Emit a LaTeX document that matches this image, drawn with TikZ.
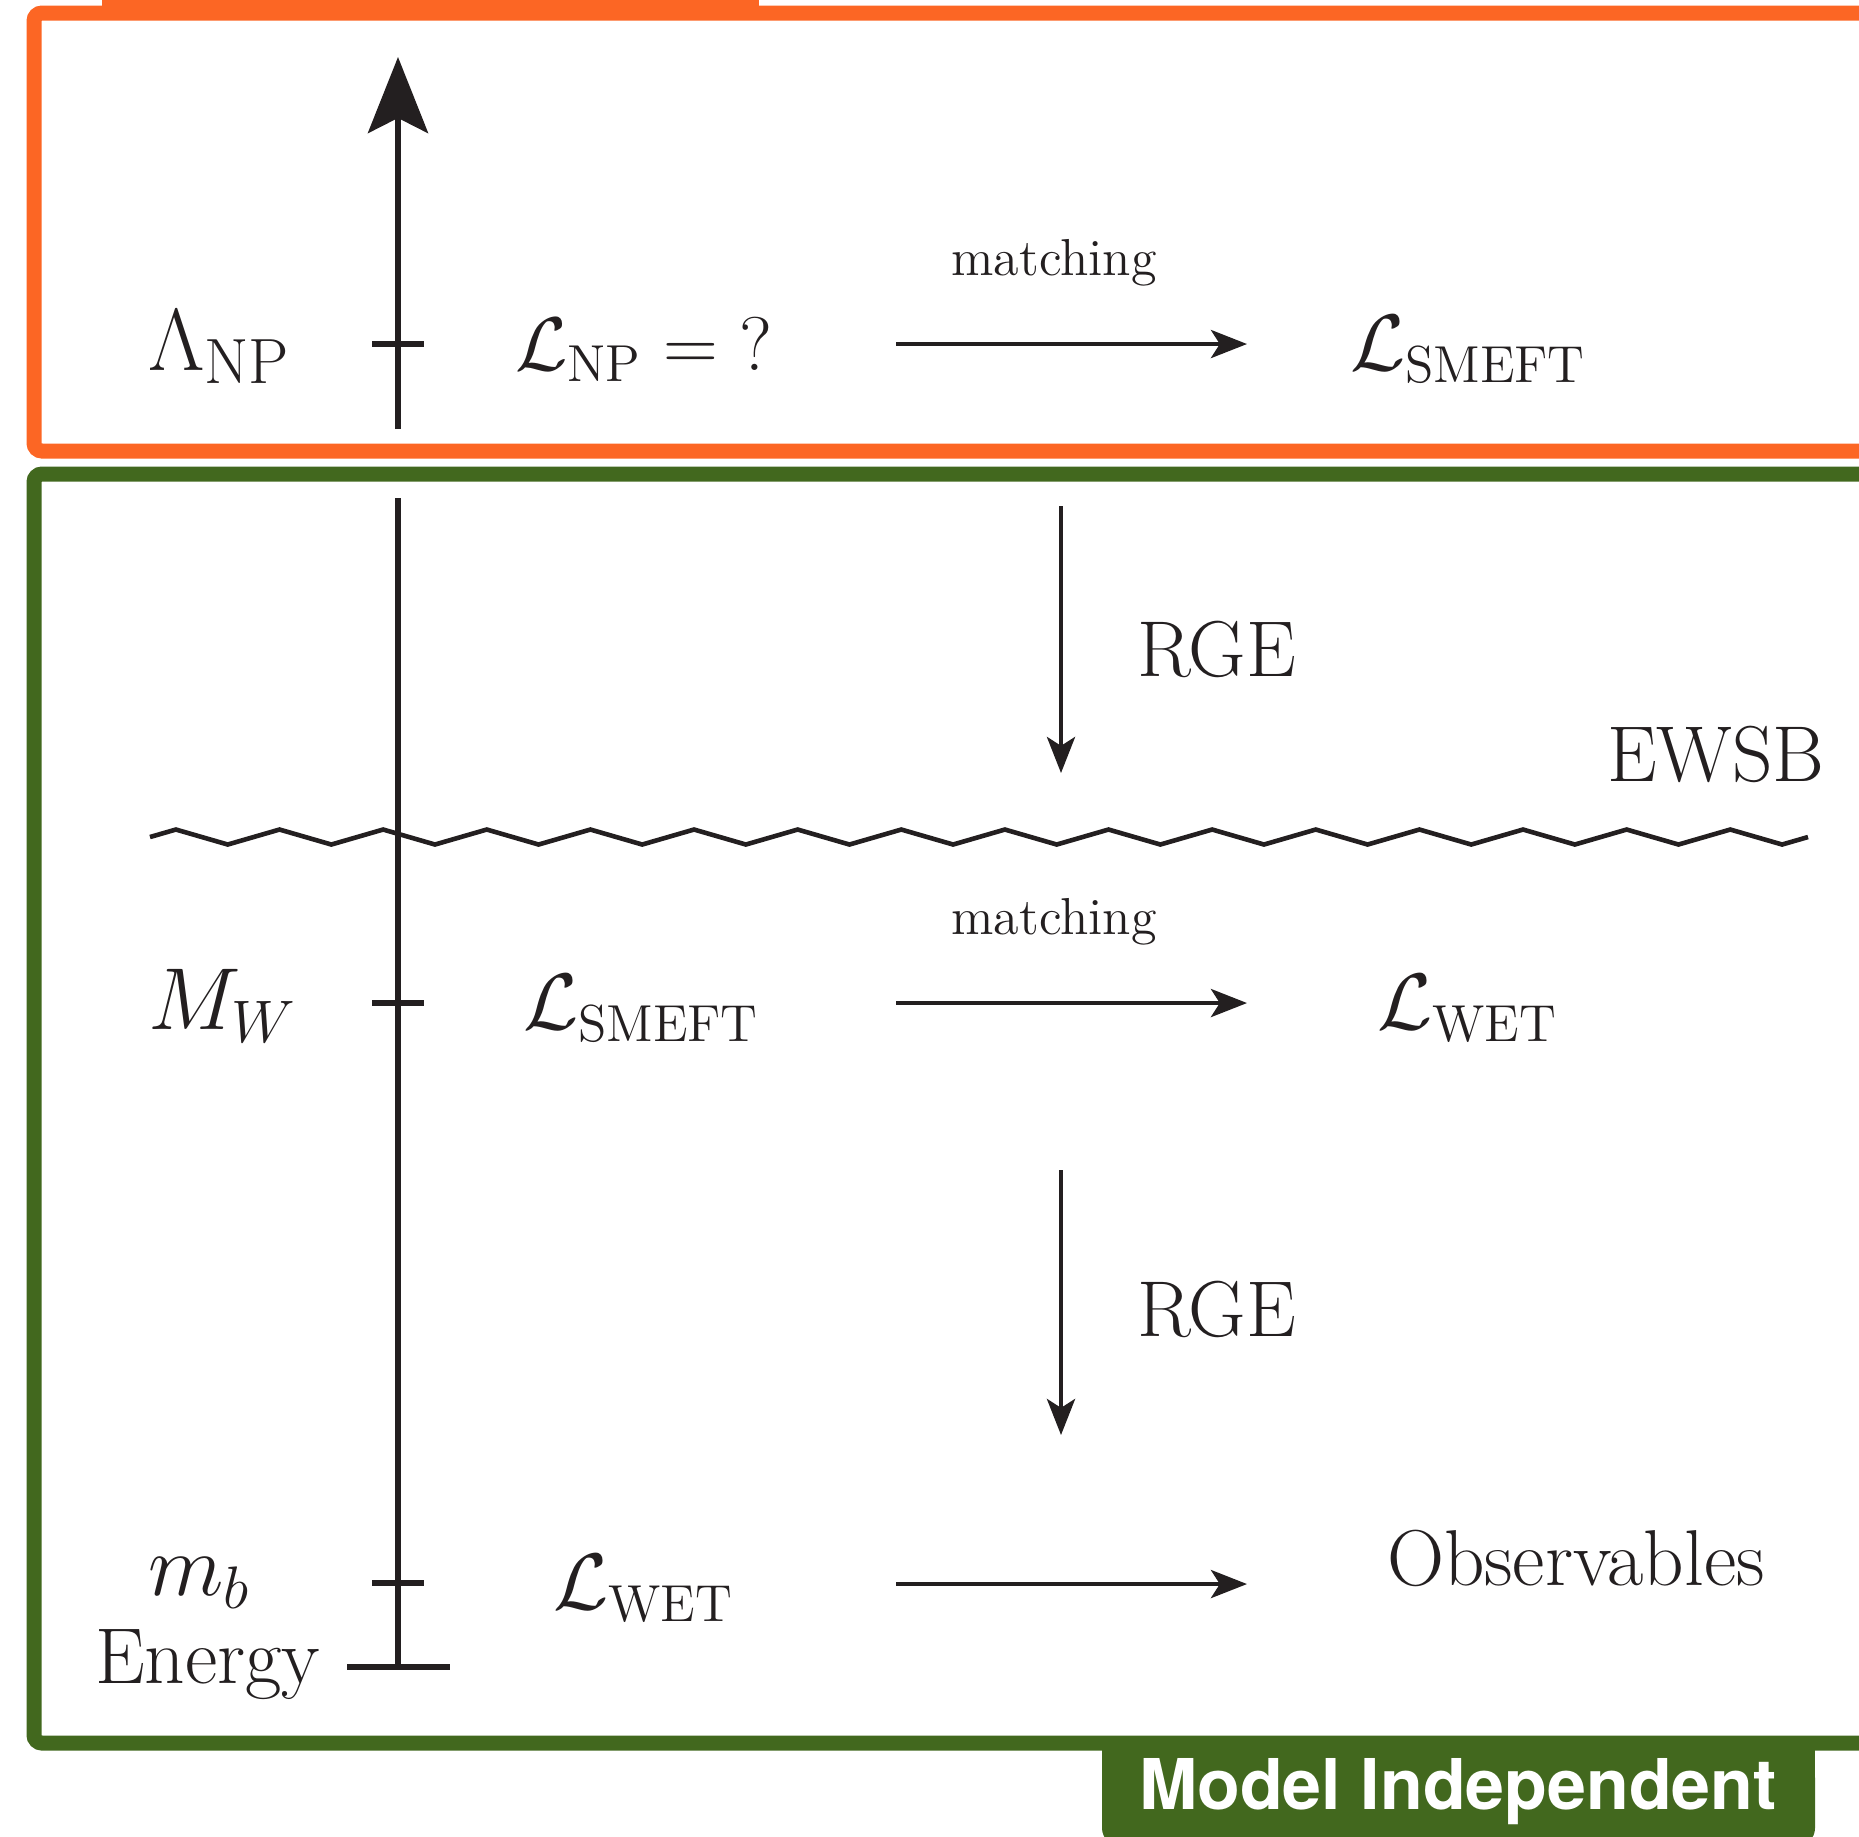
\RequirePackage{fix-cm}
\documentclass[tikz,border=0pt]{standalone}
\usepackage{fontspec}
\newfontfamily\tabfont{TeX Gyre Heros}
\usetikzlibrary{arrows.meta}
\definecolor{orng}{HTML}{FC6624}
\definecolor{grn}{HTML}{42681E}
\definecolor{ink}{HTML}{231F20}
\newcommand{\bigtxt}{\fontsize{19.8}{24}\selectfont}
\newcommand{\Lsub}[1]{\mbox{\fontsize{13}{15}\selectfont #1}}
\newcommand{\Ssub}[1]{\mbox{\fontsize{15}{17}\selectfont #1}}
\newcommand{\Nsub}[1]{\mbox{\fontsize{16}{18}\selectfont #1}}
\tikzset{
  lbl/.style={inner sep=0pt, outer sep=0pt, text=ink},
  lagr/.style={lbl, anchor=base west, font=\fontsize{20}{24}\selectfont},
  scalelbl/.style={lbl, anchor=base west, font=\fontsize{22}{26}\selectfont},
  bigt/.style={lbl, anchor=base west, font=\bigtxt},
  matchlbl/.style={lbl, anchor=base, font=\fontsize{13}{16}\selectfont},
  conn/.style={draw=ink, line width=1.15pt, -{Stealth[length=9pt,width=7pt,inset=2.2pt]}},
  axisline/.style={draw=ink, line width=1.5pt},
  frameline/.style={line width=3.75pt, rounded corners=2pt},
}
\begin{document}
\begin{tikzpicture}[x=0.25pt,y=-0.25pt]
\useasboundingbox (0,0) rectangle (1859,1836);
\clip (0,0) rectangle (1859,1836);
% frames
\fill[orng] (102,-30) rectangle (759,13);
\draw[frameline, draw=orng] (34,13) rectangle (1920,451);
\fill[grn, rounded corners=4.5pt] (1102,1760) rectangle (1815,1846);
\fill[grn] (1102,1743) rectangle (1815,1790);
\draw[frameline, draw=grn] (34,474) rectangle (1920,1743);
\node[lbl, anchor=base, text=white, font=\tabfont\bfseries\fontsize{17.5}{20}\selectfont] (tab) at (1458,1809) {Model Independent};
% energy axis
\coordinate (axtop) at (398,57);
\coordinate (axa) at (398,429);
\coordinate (axb) at (398,498);
\coordinate (axbot) at (398,1667);
\draw[axisline, -{Stealth[length=19pt,width=15pt,inset=3.75pt]}] (axa) -- (axtop);
\draw[axisline] (axb) -- (axbot);
\coordinate (barl) at (347,1667);
\coordinate (barr) at (450,1667);
\draw[axisline] (barl) -- (barr);
\foreach \yy/\nm in {344/t1,1003/t2,1583/t3}{
  \coordinate (\nm l) at (372,\yy);
  \coordinate (\nm r) at (424,\yy);
  \draw[axisline] (\nm l) -- (\nm r);
}
% scale labels
\node[scalelbl] (lamnp) at (148,370) {$\Lambda_{\Nsub{NP}}$};
\node[scalelbl] (mw) at (148,1029) {$M_{\Ssub{$W$}}$};
\node[scalelbl] (mb) at (148,1595) {$m_{\Ssub{$b$}}$};
\node[bigt] (energy) at (95,1683) {Energy};
% lagrangians
\node[lagr, font=\fontsize{19}{23}\selectfont] (lnp) at (515,370) {$\mathcal{L}_{\Lsub{NP}} = {?}$};
\node[lagr] (lsm1) at (1350,370) {$\mathcal{L}_{\Lsub{SMEFT}}$};
\node[lagr] (lsm2) at (523,1029) {$\mathcal{L}_{\Lsub{SMEFT}}$};
\node[lagr] (lwet1) at (1377,1029) {$\mathcal{L}_{\Lsub{WET}}$};
\node[lagr] (lwet2) at (553,1609) {$\mathcal{L}_{\Lsub{WET}}$};
\node[bigt] (obs) at (1387,1585) {Observables};
% horizontal arrows
\coordinate (h1s) at (896,344); \coordinate (h1e) at (1247,344);
\coordinate (h2s) at (896,1003); \coordinate (h2e) at (1247,1003);
\coordinate (h3s) at (896,1584); \coordinate (h3e) at (1247,1584);
\draw[conn] (h1s) -- (h1e);
\draw[conn] (h2s) -- (h2e);
\draw[conn] (h3s) -- (h3e);
\node[matchlbl] (m1) at (1054,275) {matching};
\node[matchlbl] (m2) at (1054,934) {matching};
% vertical RGE arrows
\coordinate (v1s) at (1061,506); \coordinate (v1e) at (1061,773);
\coordinate (v2s) at (1061,1170); \coordinate (v2e) at (1061,1435);
\draw[conn] (v1s) -- (v1e);
\draw[conn] (v2s) -- (v2e);
\node[bigt] (rge1) at (1137,676) {RGE};
\node[bigt] (rge2) at (1137,1336) {RGE};
% EWSB zigzag
\coordinate (zz0) at (150,837);
\draw[draw=ink, line width=1.15pt] (zz0) \foreach \i in {1,...,16}{ -- ++(25.906,-7.5) -- ++(51.8125,15) -- ++(25.906,-7.5) };
\node[bigt] (ewsb) at (1607,781) {EWSB};
\end{tikzpicture}
\end{document}
